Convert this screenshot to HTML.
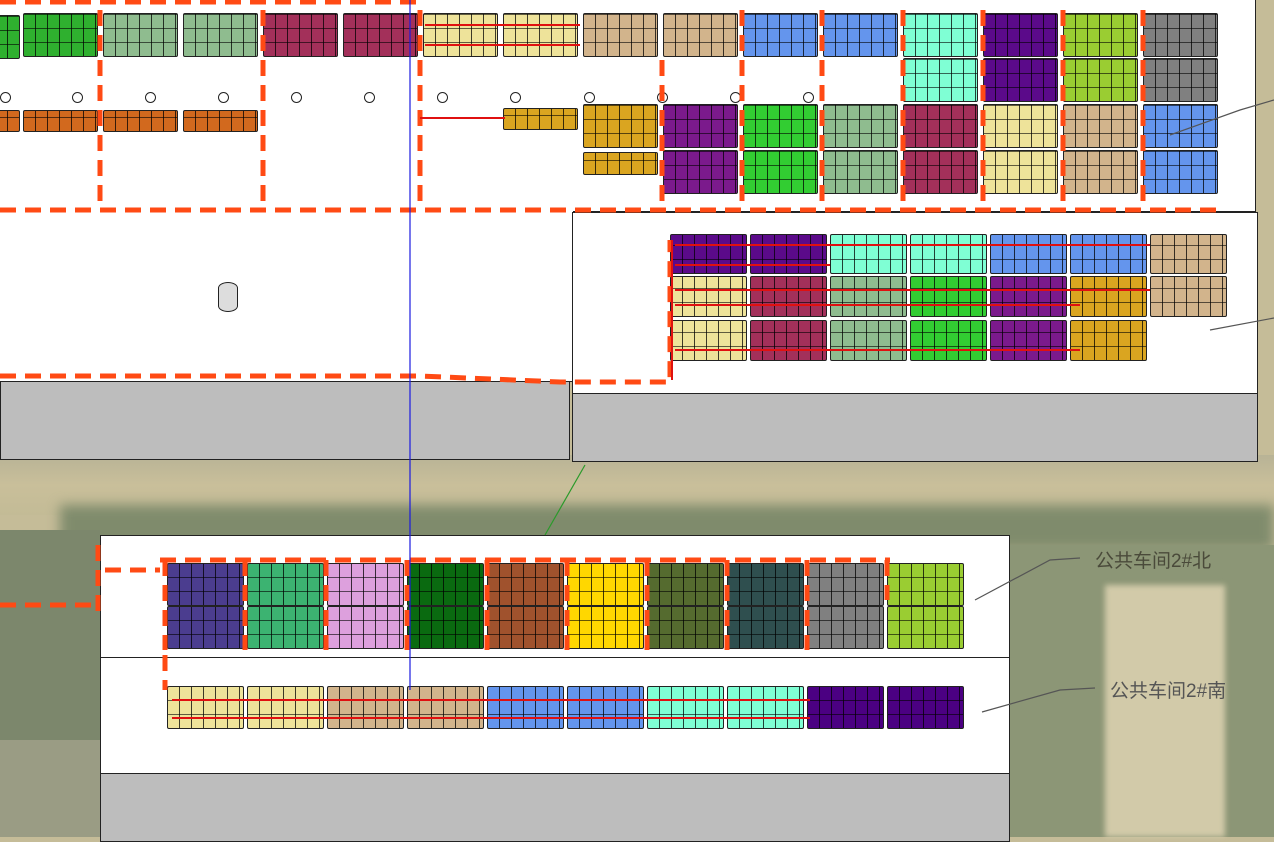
<!DOCTYPE html>
<html><head><meta charset="utf-8">
<style>
html,body{margin:0;padding:0}
body{width:1274px;height:837px;position:relative;overflow:hidden;background:#c5bc98;font-family:"Liberation Sans","Noto Sans CJK SC",sans-serif}
.a{position:absolute;box-sizing:border-box}
.w{background:#fff;border:1.5px solid #222}
.g{background:#bdbdbd;border:1.5px solid #222}
.p{position:absolute;box-sizing:border-box;border:1px solid #222;border-radius:2px;
background-image:repeating-linear-gradient(90deg,transparent 0 11px,rgba(0,0,0,.75) 11px 12px),repeating-linear-gradient(0deg,transparent 0 13px,rgba(0,0,0,.6) 13px 14px)}
.c{position:absolute;width:9px;height:9px;border:1.5px solid #222;border-radius:50%;background:#fff}
.lbl{position:absolute;font-size:19px;color:#555}
</style></head><body>
<!-- aerial background -->
<div class="a" style="left:0;top:455px;width:1274px;height:60px;background:linear-gradient(180deg,#b8b396 0,#c9bf9a 30px,#c3bb96 60px)"></div>
<div class="a" style="left:60px;top:505px;width:1214px;height:45px;background:#7f8b6c;filter:blur(6px)"></div>
<div class="a" style="left:0;top:530px;width:100px;height:307px;background:#7c876c"></div>
<div class="a" style="left:0;top:740px;width:100px;height:97px;background:#9a9c84"></div>
<div class="a" style="left:1010px;top:545px;width:264px;height:292px;background:#8c9676"></div>
<div class="a" style="left:1105px;top:585px;width:120px;height:252px;background:#d2caa9;filter:blur(3px)"></div>

<!-- top building -->
<div class="a g" style="left:0;top:380px;width:570px;height:80px"></div>
<div class="a w" style="left:-2px;top:0;width:1258px;height:212px;border-top:none"></div>
<div class="a w" style="left:-2px;top:210px;width:575px;height:172px;border-top:none;border-right:none"></div>
<div class="a g" style="left:572px;top:392px;width:686px;height:70px"></div>
<div class="a w" style="left:572px;top:212px;width:686px;height:182px"></div>
<div class="a" style="left:218px;top:282px;width:20px;height:30px;border:1.5px solid #222;border-radius:10px/6px;background:#ddd"></div>

<!-- bottom building -->
<div class="a g" style="left:100px;top:772px;width:910px;height:70px"></div>
<div class="a w" style="left:100px;top:535px;width:910px;height:124px"></div>
<div class="a w" style="left:100px;top:657px;width:910px;height:117px"></div>

<div id="pan"></div>
<svg class="a" style="left:0;top:0" width="1274" height="837">
<g fill="none" stroke="#ff4a14" stroke-width="5" stroke-dasharray="16,9">
<path d="M0 2H420M0 210H1220M0 376H420L560 382H670V240"/>
<path d="M100 10V210M263 10V210M420 10V210M662 60V205M742 10V205M822 10V205M903 10V205M983 10V205M1063 10V205M1143 10V205"/>
<path d="M98 545V612M0 605H98M105 570H160M160 560H890M165 560V650M245 560V650M326 560V650M407 560V650M487 560V650M567 560V650M647 560V650M727 560V650M807 560V650M887 560V600M165 655V690"/>
</g>
<g stroke="#e01010" stroke-width="2" fill="none">
<path d="M425 25H580M425 45H580M420 118H505M675 245H1150M675 265H830M675 290H1150M675 305H1080M675 350H1080M172 700H810M172 718H810M672 240V380"/>
</g>
<line x1="410" y1="0" x2="410" y2="690" stroke="#1a1ae0" stroke-width="1.2"/>
<line x1="585" y1="465" x2="545" y2="535" stroke="#2a9a2a" stroke-width="1.2"/>
<g stroke="#555" stroke-width="1.2" fill="#555">
<path d="M1274 100L1240 110L1170 135" fill="none"/><path d="M1274 318L1210 330" fill="none"/>
<path d="M1080 558L1050 560L975 600" fill="none"/><path d="M1095 688L1060 690L982 712" fill="none"/>
</g>
</svg>
<div class="lbl" style="left:1095px;top:546px;color:#4a4a3a">公共车间2#北</div>
<div class="lbl" style="left:1110px;top:676px">公共车间2#南</div>
<script>
var C={g:"#2fb02f",lg:"#8fbc8f",sg:"#8fbc8f",m:"#a3305a",k:"#eee39a",t:"#d2b48c",b:"#6495ed",aq:"#7fffd4",pu:"#5b0a8a",yg:"#9acd32",gr:"#808080",o:"#d2691e",gd:"#daa520",mg:"#7b1a8c",gn:"#32cd32",
nv:"#4b3d8f",tg:"#3cb371",pk:"#dda0dd",dg:"#0a6a10",br:"#a0522d",ye:"#ffd700",ol:"#556b2f",ds:"#2f4f4f",in:"#4b0082"};
var d=document.getElementById("pan"),h="";
function P(x,y,w,hh,c){h+='<div class="p" style="left:'+x+'px;top:'+y+'px;width:'+w+'px;height:'+hh+'px;background-color:'+C[c]+'"></div>';}
var r1=["g","lg","sg","m","m","k","k","t","t","b","b","aq","pu","yg","gr"];
P(-5,15,25,44,"g");
r1.forEach(function(c,i){P(23+i*80,13,75,44,c);});
["aq","pu","yg","gr"].forEach(function(c,i){P(903+i*80,58,75,44,c);});
P(-5,110,25,22,"o");[0,1,2].forEach(function(i){P(23+i*80,110,75,22,"o");});
P(503,108,75,22,"gd");
var r3=["gd","mg","gn","sg","m","k","t","b"];
r3.forEach(function(c,i){P(583+i*80,104,75,44,c);});
r3.forEach(function(c,i){if(i==0)P(583,152,75,23,c);else P(583+i*80,150,75,44,c);});
[5,77,150,223,296,369,442,515,589,662,735,808].forEach(function(x){h+='<div class="c" style="left:'+(x-5)+'px;top:92px"></div>';});
var A=["pu","pu","aq","aq","b","b","t"],B=["k","m","sg","gn","mg","gd","t"],Cc=["k","m","sg","gn","mg","gd"];
A.forEach(function(c,i){P(670+i*80,234,77,40,c);});
B.forEach(function(c,i){P(670+i*80,276,77,41,c);});
Cc.forEach(function(c,i){P(670+i*80,320,77,41,c);});
var R=["nv","tg","pk","dg","br","ye","ol","ds","gr","yg"];
R.forEach(function(c,i){P(167+i*80,563,77,43,c);P(167+i*80,606,77,43,c);});
var S=["k","k","t","t","b","b","aq","aq","in","in"];
S.forEach(function(c,i){P(167+i*80,686,77,43,c);});
d.innerHTML=h;
</script>
</body></html>
